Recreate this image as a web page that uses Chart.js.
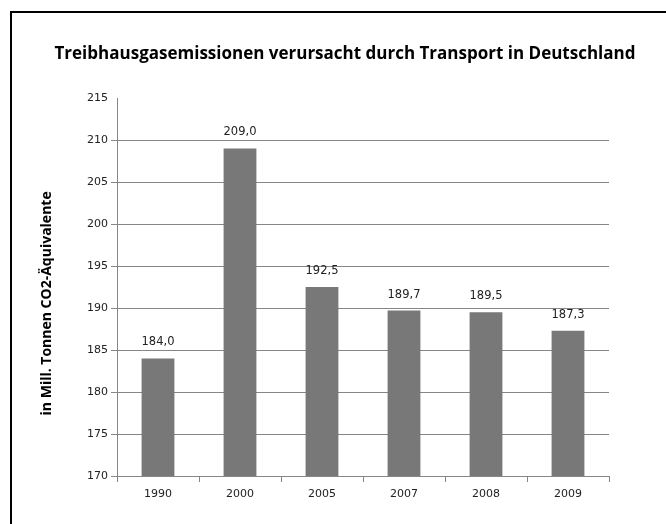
<!DOCTYPE html>
<html>
<head>
<meta charset="utf-8">
<script src="https://cdn.jsdelivr.net/npm/chart.js@4/dist/chart.umd.min.js"></script>
<style>
  body { margin: 0; background: #fff; }
  #wrap { position: relative; width: 666px; height: 524px; overflow: hidden; }
  #frame { position: absolute; left: 10px; top: 11px; width: 700px; height: 600px;
           border-left: 2px solid #000; border-top: 2px solid #000; }
  #chart { position: absolute; left: 0; top: 0; }
</style>
</head>
<body>
<div id="wrap">
  <div id="frame"></div>
  <canvas id="chart" width="666" height="524"></canvas>
</div>
<script>
// Daten
const jahre = ['1990', '2000', '2005', '2007', '2008', '2009'];
const emissionen = [184.0, 209.0, 192.5, 189.7, 189.5, 187.3];
const yMin = 170, yMax = 215, yStep = 5;

const gridColor = '#868686';
const barColor = '#787878';
const tickFont = 'DejaVu Sans';
const titleFont = 'Open Sans';

// Werte über den Balken
const wertLabels = {
    id: 'wertLabels',
    afterDatasetsDraw(chart) {
        const c = chart.ctx;
        const meta = chart.getDatasetMeta(0);
        c.save();
        c.font = '11.5px ' + tickFont;
        c.fillStyle = '#222';
        c.textAlign = 'center';
        c.textBaseline = 'alphabetic';
        meta.data.forEach((bar, i) => {
            const txt = emissionen[i].toFixed(1).replace('.', ',');
            c.fillText(txt, bar.x, bar.y - 13);
        });
        c.restore();
    }
};

const ctx = document.getElementById('chart').getContext('2d');
const chart = new Chart(ctx, {
    type: 'bar',
    data: {
        labels: jahre,
        datasets: [{
            data: emissionen,
            backgroundColor: barColor,
            barPercentage: 0.4,
            categoryPercentage: 1.0
        }]
    },
    options: {
        responsive: false,
        animation: false,
        layout: { padding: { left: 24, right: 0, top: 0, bottom: 0 } },
        plugins: {
            legend: { display: false },
            tooltip: { enabled: false },
            title: {
                display: true,
                text: 'Treibhausgasemissionen verursacht durch Transport in Deutschland',
                color: '#000',
                font: { family: titleFont, size: 17, weight: 'bold' },
                padding: { top: 44, bottom: 33.6 }
            }
        },
        scales: {
            x: {
                grid: { drawOnChartArea: false, offset: true, tickLength: 6, color: gridColor },
                border: { color: gridColor },
                ticks: { color: '#222', font: { family: tickFont, size: 11 }, padding: 6 },
                afterFit(s) { s.height = 48; }
            },
            y: {
                min: yMin,
                max: yMax,
                ticks: { stepSize: yStep, color: '#222', font: { family: tickFont, size: 11 }, padding: 3 },
                grid: {
                    tickLength: 6,
                    color: (c) => c.tick && c.tick.value === yMax ? 'rgba(0,0,0,0)' : gridColor
                },
                border: { color: gridColor },
                title: {
                    display: true,
                    // Leerzeichen am Ende schieben den Titel etwas nach unten
                    text: 'in Mill. Tonnen CO2-Äquivalente         ',
                    color: '#000',
                    font: { family: titleFont, size: 14, weight: 'bold' },
                    padding: { top: 14.6, bottom: 0 }
                },
                afterFit(s) { s.width = 117 - 24; }
            },
            rechts: {
                position: 'right',
                grid: { display: false },
                border: { display: false },
                ticks: { display: false },
                afterFit(s) { s.width = 57; }
            }
        }
    },
    plugins: [wertLabels]
});
</script>
</body>
</html>
